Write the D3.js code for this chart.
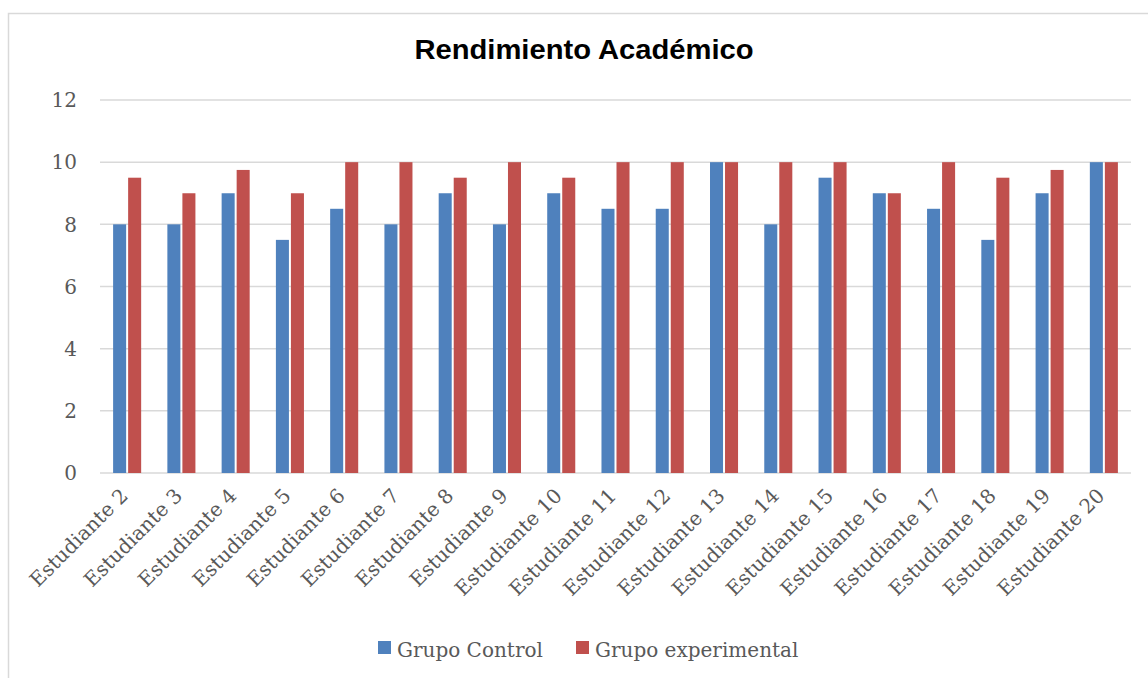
<!DOCTYPE html>
<html><head><meta charset="utf-8">
<script src="https://cdn.jsdelivr.net/npm/d3@7"></script>
<style>body{margin:0;background:#fff;} svg{display:block;}</style>
</head><body>
<script>
const categories = ["Estudiante 2","Estudiante 3","Estudiante 4","Estudiante 5","Estudiante 6","Estudiante 7","Estudiante 8","Estudiante 9","Estudiante 10","Estudiante 11","Estudiante 12","Estudiante 13","Estudiante 14","Estudiante 15","Estudiante 16","Estudiante 17","Estudiante 18","Estudiante 19","Estudiante 20"];
const control = [8, 8, 9, 7.5, 8.5, 8, 9, 8, 9, 8.5, 8.5, 10, 8, 9.5, 9, 8.5, 7.5, 9, 10];
const experimental = [9.5, 9, 9.75, 9, 10, 10, 9.5, 10, 9.5, 10, 10, 10, 10, 10, 9, 10, 9.5, 9.75, 10];
const seriesNames = ["Grupo Control", "Grupo experimental"];
const seriesColors = ["#4F81BD", "#C0504D"];
const yTicks = [0, 2, 4, 6, 8, 10, 12];
const chartTitle = "Rendimiento Académico";

(function () {
const W = 1148, H = 678;
const svg = d3.select("body").append("svg").attr("width", W).attr("height", H);
svg.append("rect").attr("x", 8.5).attr("y", 13.5).attr("width", W + 10).attr("height", H + 10)
  .attr("fill", "#fff").attr("stroke", "#d9d9d9").attr("stroke-width", 1.5);

const pL = 100, pR = 1131, pT = 100, pB = 473;
const x = d3.scaleBand().domain(categories).range([pL, pR]);
const y = d3.scaleLinear().domain([0, 12]).range([pB, pT]);
const serif = "'DejaVu Serif', serif";

svg.append("g").selectAll("line").data(yTicks).join("line")
  .attr("x1", pL).attr("x2", pR)
  .attr("y1", d => y(d)).attr("y2", d => y(d))
  .attr("stroke", "#d9d9d9").attr("stroke-width", 1.5);

svg.append("g").selectAll("text").data(yTicks).join("text")
  .attr("x", 77).attr("y", d => y(d)).attr("dy", "0.36em")
  .attr("text-anchor", "end").attr("fill", "#595959")
  .style("font-family", serif).style("font-size", "20px")
  .text(d => d);

const bw = x.bandwidth() * 0.24, gap = 2;
const data = categories.map((c, i) => ({c, v: [control[i], experimental[i]]}));
const g = svg.append("g");
[0, 1].forEach(s => {
  g.selectAll(".s" + s).data(data).join("rect").attr("class", "s" + s)
    .attr("x", d => x(d.c) + x.bandwidth() / 2 + (s === 0 ? -bw - gap / 2 : gap / 2))
    .attr("width", bw)
    .attr("y", d => y(d.v[s]))
    .attr("height", d => y(0) - y(d.v[s]))
    .attr("fill", seriesColors[s]);
});

svg.append("g").selectAll("text").data(categories).join("text")
  .attr("transform", d => `translate(${x(d) + x.bandwidth() / 2 + 2},${497}) rotate(-45)`)
  .attr("text-anchor", "end").attr("fill", "#595959")
  .style("font-family", serif).style("font-size", "20px")
  .text(d => d);

svg.append("text").attr("transform", "translate(584,59) scale(1.08,1)").attr("text-anchor", "middle")
  .attr("fill", "#000").style("font-family", "'Liberation Sans', Arial, sans-serif")
  .style("font-size", "27px").style("font-weight", "bold").text(chartTitle);

const legX = [378, 576];
const leg = svg.append("g").selectAll("g").data(seriesNames).join("g")
  .attr("transform", (d, i) => `translate(${legX[i]},641)`);
leg.append("rect").attr("width", 13).attr("height", 13).attr("fill", (d, i) => seriesColors[i]);
leg.append("text").attr("x", 19).attr("y", 16).attr("fill", "#595959")
  .style("font-family", serif).style("font-size", "20px").text(d => d);
})();
</script>
</body></html>
